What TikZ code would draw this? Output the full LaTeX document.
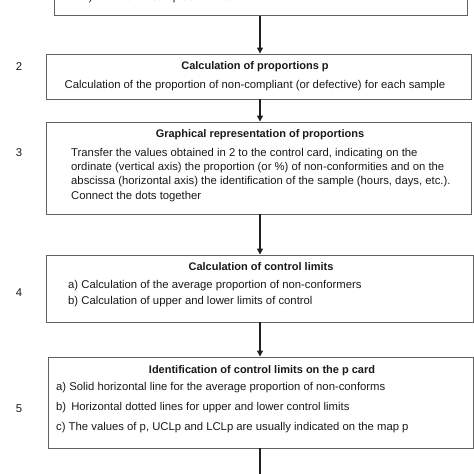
\documentclass[tikz,border=0pt]{standalone}
\usepackage{fontspec}
\setmainfont{Liberation Sans}
\usetikzlibrary{arrows.meta}
\begin{document}
\begin{tikzpicture}[x=1pt,y=-1pt,
  stepbox/.style={draw=black!62,line width=0.9pt,rectangle,inner sep=0pt},
  txt/.style={anchor=west,inner sep=0pt,font=\fontsize{11.3}{13}\selectfont,text=black!90},
  ttl/.style={inner sep=0pt,font=\fontsize{11}{13}\selectfont\bfseries,text=black!90},
  num/.style={inner sep=0pt,font=\fontsize{11.3}{13}\selectfont,text=black!90},
  arr/.style={draw=black!88,line width=1.4pt,-{Triangle[length=6pt,width=6pt]}}]
\useasboundingbox (0,0) rectangle (474,474);
\clip (0,0) rectangle (474,474);
% boxes
\node[stepbox,minimum width=413pt,minimum height=80pt] (b1) at (260.5,-24.3) {};
\node[stepbox,minimum width=425pt,minimum height=45pt] (b2) at (258.5,76.5) {};
\node[stepbox,minimum width=425pt,minimum height=92pt] (b3) at (258.5,168) {};
\node[stepbox,minimum width=427pt,minimum height=67pt] (b4) at (259.5,288.5) {};
\node[stepbox,minimum width=425pt,minimum height=91pt] (b5) at (260.5,402.5) {};
\coordinate (ax) at (260,0);
\coordinate (bend) at (260,480);
% box 1 (cut off)
\node[txt] (t1c) at (83,-2.5) {c) Number of samples to be taken};
% box 2
\node[num] (n2) at (19,67) {2};
\node[ttl] (t2) at (255,67) {Calculation of proportions p};
\node[num] (t2a) at (255,86) {Calculation of the proportion of non-compliant (or defective) for each sample};
% box 3
\node[num] (n3) at (19,153) {3};
\node[ttl] (t3) at (260,135) {Graphical representation of proportions};
\node[txt] (t3a) at (71,154) {Transfer the values obtained in 2 to the control card, indicating on the};
\node[txt] (t3b) at (71,168) {ordinate (vertical axis) the proportion (or \%) of non-conformities and on the};
\node[txt] (t3c) at (71,182) {abscissa (horizontal axis) the identification of the sample (hours, days, etc.).};
\node[txt] (t3d) at (71,197) {Connect the dots together};
% box 4
\node[num] (n4) at (19,293) {4};
\node[ttl] (t4) at (261,267) {Calculation of control limits};
\node[txt] (t4a) at (68,286) {a) Calculation of the average proportion of non-conformers};
\node[txt] (t4b) at (68,302) {b) Calculation of upper and lower limits of control};
% box 5
\node[num] (n5) at (19,409) {5};
\node[ttl] (t5) at (262,371) {Identification of control limits on the p card};
\node[txt] (t5a) at (56,388) {a) Solid horizontal line for the average proportion of non-conforms};
\node[txt] (t5b) at (56,408) {b)\, Horizontal dotted lines for upper and lower control limits};
\node[txt] (t5c) at (56,428) {c) The values of p, UCLp and LCLp are usually indicated on the map p};
% arrows
\draw[arr] (b1.south -| ax) -- (b2.north -| ax);
\draw[arr] (b2.south -| ax) -- (b3.north -| ax);
\draw[arr] (b3.south -| ax) -- (b4.north -| ax);
\draw[arr] (b4.south -| ax) -- (b5.north -| ax);
\draw[draw=black!88,line width=1.4pt] (b5.south -| ax) -- (bend);
\end{tikzpicture}
\end{document}
